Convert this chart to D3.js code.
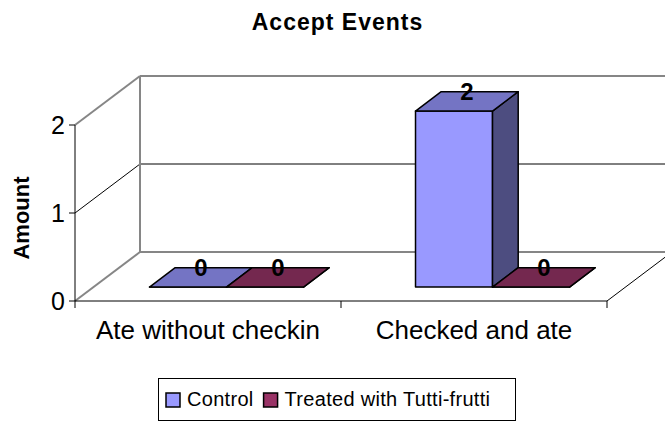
<!DOCTYPE html>
<html>
<head>
<meta charset="utf-8">
<script src="https://cdn.jsdelivr.net/npm/d3@7"></script>
<style>
  html, body { margin: 0; padding: 0; background: #fff; }
  svg { display: block; }
  text { font-family: "Liberation Sans", Arial, sans-serif; fill: #000; }
</style>
</head>
<body>
<svg id="chart" width="665" height="422"></svg>
<script>
// Chart data
const categories = ["Ate without checkin", "Checked and ate"];
const seriesNames = ["Control", "Treated with Tutti-frutti"];
const controlValues = [0, 2];
const treatedValues = [0, 0];
const yTicks = [0, 1, 2];

const seriesValues = [controlValues, treatedValues];
const faceColors = ["#9999FF", "#993366"];
const topColors = ["#7474C4", "#74284F"];
const sideColors = ["#4D4D80", "#4D1933"];

const svg = d3.select("#chart");

// Front plane of the 3D box
const left = 75, right = 607, base = 301;
const depthDx = 65, depthDy = -49;      // offset from the front plane to the back wall
const barZ0 = 0.285, barZ1 = 0.68;       // bars sit between these depth fractions

const y = d3.scaleLinear().domain([0, 2]).range([base, base - 176]);
const x0 = d3.scaleBand().domain(categories).range([left, right])
  .paddingInner(0.421).paddingOuter(0.2105);
const x1 = d3.scaleBand().domain(seriesNames).range([0, x0.bandwidth()]);

// project (front-plane x, value, depth fraction) to screen
const P = (x, v, z) => [x + z * depthDx, y(v) + z * depthDy];

const gray = "#868686";

// Back wall and side wall
const wall = svg.append("g");
const line = (a, b, color, w) => wall.append("line")
  .attr("x1", a[0]).attr("y1", a[1]).attr("x2", b[0]).attr("y2", b[1])
  .attr("stroke", color).attr("stroke-width", w);

const ymax = y.domain()[1];
const farRight = 700;
// gridlines (interior values) on side and back wall
yTicks.filter(t => t > 0 && t < ymax).forEach(t => {
  line(P(left, t, 0), P(left, t, 1), "#000", 1);
  line(P(left, t, 1), [farRight, P(left, t, 1)[1]], "#000", 1);
});
line(P(left, ymax, 0), P(left, ymax, 1), gray, 2);
line(P(left, ymax, 1), [farRight, P(left, ymax, 1)[1]], gray, 2);
line(P(left, 0, 1), P(left, ymax, 1), gray, 2);
line(P(left, 0, 0), P(left, 0, 1), gray, 2);
line(P(left, 0, 1), [farRight, P(left, 0, 1)[1]], gray, 2);
// floor front edge and right diagonal
line(P(left, 0, 0), P(right, 0, 0), "#000", 1);
line(P(right, 0, 0), P(right, 0, 1), "#000", 1);

// value axis
line(P(left, 0, 0), P(left, ymax, 0), "#000", 1);
yTicks.forEach(t => {
  line([left - 6, y(t)], [left, y(t)], "#000", 1);
  svg.append("text").attr("x", left - 10).attr("y", y(t) + 9)
    .attr("text-anchor", "end").style("font-size", "25px").text(t);
});
// category ticks
[left, ...categories.slice(1).map(c => x0(c) - x0.step() * x0.paddingInner() / 2), right]
  .forEach(tx => line([tx, base], [tx, base + 7], "#000", 1));

// category labels
categories.forEach(c => {
  svg.append("text").attr("x", x0(c) + x0.bandwidth() / 2).attr("y", 339)
    .attr("text-anchor", "middle").style("font-size", "26px").text(c);
});

// 3D bars
const bars = svg.append("g").attr("stroke", "#000").attr("stroke-width", 1.5)
  .attr("stroke-linejoin", "round");
categories.forEach((c, ci) => {
  seriesNames.forEach((s, si) => {
    const v = seriesValues[si][ci];
    const xa = x0(c) + x1(s), xb = xa + x1.bandwidth();
    const poly = pts => pts.map(p => p.join(",")).join(" ");
    // front face
    bars.append("polygon").attr("fill", faceColors[si])
      .attr("points", poly([P(xa, 0, barZ0), P(xb, 0, barZ0), P(xb, v, barZ0), P(xa, v, barZ0)]));
    // right side
    bars.append("polygon").attr("fill", sideColors[si])
      .attr("points", poly([P(xb, 0, barZ0), P(xb, 0, barZ1), P(xb, v, barZ1), P(xb, v, barZ0)]));
    // top
    bars.append("polygon").attr("fill", topColors[si])
      .attr("points", poly([P(xa, v, barZ0), P(xb, v, barZ0), P(xb, v, barZ1), P(xa, v, barZ1)]));
    // value label at the centre of the top face
    const cx = (xa + xb) / 2;
    const zc = (barZ0 + barZ1) / 2;
    const pc = P(cx, v, zc);
    svg.append("text").attr("x", pc[0]).attr("y", pc[1] - 1)
      .attr("text-anchor", "middle").style("font-size", "24px").style("font-weight", "bold")
      .text(v);
  });
});

// Title
svg.append("text").attr("x", 337.5).attr("y", 30).attr("text-anchor", "middle")
  .style("font-size", "23px").style("font-weight", "bold").style("letter-spacing", "1px")
  .text("Accept Events");

// Value axis title
svg.append("text").attr("transform", "translate(28.5,218) rotate(-90)")
  .attr("text-anchor", "middle").style("font-size", "22px").style("font-weight", "bold")
  .text("Amount");

// Legend
const legend = svg.append("g");
legend.append("rect").attr("x", 158.5).attr("y", 378.5).attr("width", 357).attr("height", 42)
  .attr("fill", "#fff").attr("stroke", "#000").attr("stroke-width", 1);
let lx = 166;
seriesNames.forEach((s, si) => {
  legend.append("rect").attr("x", lx).attr("y", 393).attr("width", 14).attr("height", 14)
    .attr("fill", faceColors[si]).attr("stroke", "#000").attr("stroke-width", 1.5);
  const t = legend.append("text").attr("x", lx + 21).attr("y", 406)
    .style("font-size", "20px").style("letter-spacing", "0.3px").text(s);
  lx = lx + 21 + t.node().getComputedTextLength() + 10;
});
</script>
</body>
</html>
